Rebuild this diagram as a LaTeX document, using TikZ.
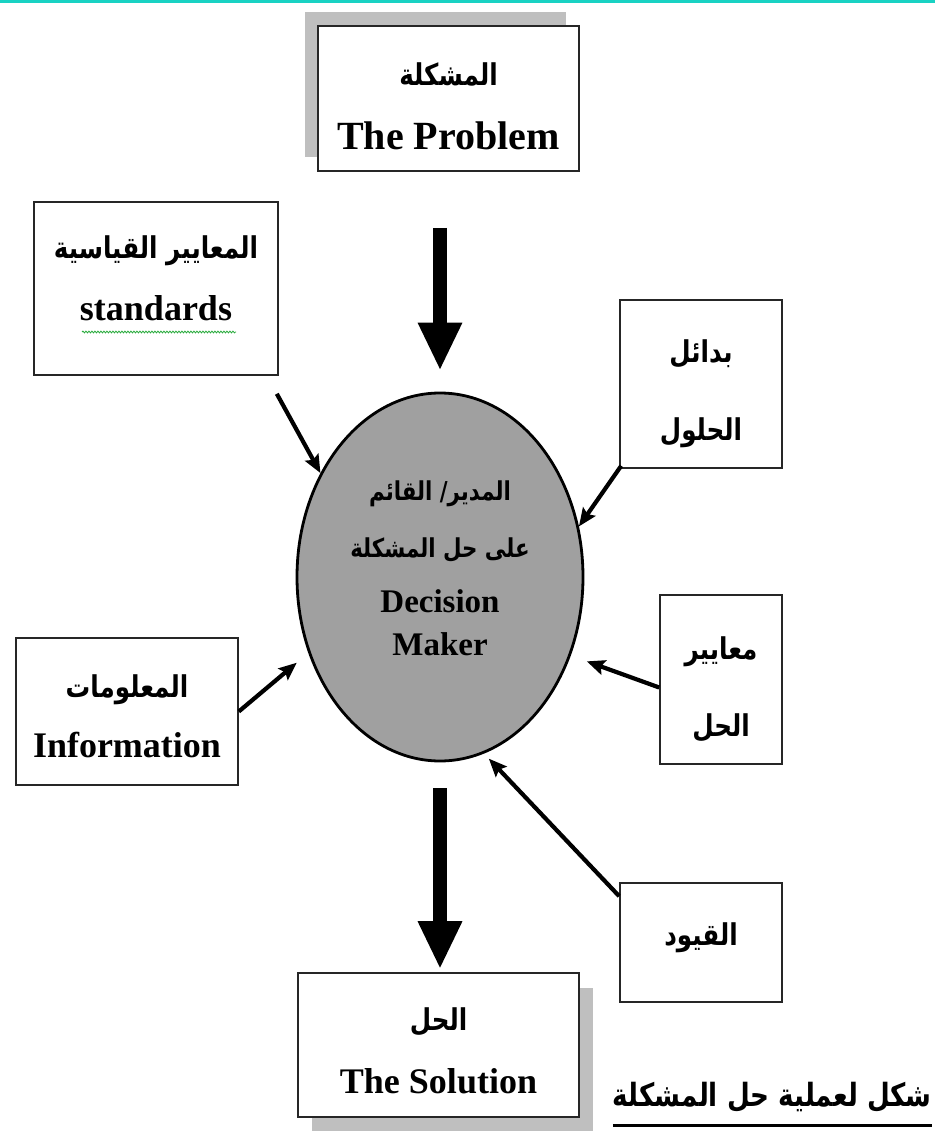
\documentclass[tikz,border=0pt]{standalone}
\usepackage{fontspec}
\setmainfont{Liberation Serif}
\newfontfamily\arabicfont[Script=Arabic, FakeStretch=0.82]{DejaVu Sans}
\TeXXeTstate=1
\usepackage{tikz}
\usetikzlibrary{positioning, shapes.geometric, arrows.meta, shadows, decorations.pathmorphing, calc}
\definecolor{topteal}{RGB}{24,210,195}
\definecolor{shadowgray}{RGB}{191,191,191}
\definecolor{makergray}{RGB}{160,160,160}
\definecolor{wavegreen}{RGB}{40,170,60}
\newcommand{\artxt}[2][30]{{\arabicfont\bfseries\fontsize{#1}{44}\selectfont\beginR #2\endR}}

\begin{document}
\begin{tikzpicture}[x=1pt, y=-1pt]
	\tikzset{box/.style={draw=black!85, line width=1.6pt, fill=white, rectangle, align=center, inner sep=0pt, text depth=0pt, font=\fontsize{36}{44}\selectfont\bfseries}}
	\tikzset{thinarrow/.style={-{Stealth[length=18pt, width=15pt, inset=3pt]}, line width=4.2pt}}
	\tikzset{bigarrow/.style={-{Triangle[length=48pt, width=41pt]}, line width=14pt}}
	% \tikzset{shadowed/.style={drop shadow}}

	\useasboundingbox (0,0) rectangle (935,1131);
	\fill[topteal] (0,0) rectangle (935,3.5);

	% Decision maker
	\node (dm) [ellipse, draw, line width=2.8pt, fill=makergray, minimum width=286pt, minimum height=368pt, inner sep=0pt, align=center, text height=156pt, text depth=0pt, font=\fontsize{33}{40}\selectfont\bfseries] at (440,577) {\artxt[26]{المدير/ القائم}\\[17pt]\artxt[26]{على حل المشكلة}\\[15pt]Decision\\[3pt]Maker};

	% Problem
	\node (prob) [box, minimum width=261pt, minimum height=145pt, text height=103pt, drop shadow={shadow xshift=-13pt, shadow yshift=14pt, fill=shadowgray, opacity=1}, font=\fontsize{40}{44}\selectfont\bfseries] at (448.5,98.5) {\artxt{المشكلة}\\[20pt]The Problem};
	\draw [bigarrow, shorten <=56pt, shorten >=21pt] (prob.south -| dm.north) -- (dm.north);

	% Standards
	\node (std) [box, minimum width=244pt, minimum height=173pt, text height=63pt] at (156,288.5) {\artxt{المعايير القياسية}\\[18pt]standards};
	\draw [wavegreen, line width=0.8pt, decorate, decoration={snake, amplitude=0.9pt, segment length=3pt}] (82,332) -- (236,332);
	\draw [thinarrow] ([xshift=-2pt, yshift=-18pt]std.south east) -- (dm.139);

	% Alternatives
	\node (alt) [box, minimum width=162pt, minimum height=168pt, text height=112pt] at (701,384) {\artxt{بدائل}\\[34pt]\artxt{الحلول}};
	\draw [thinarrow] ([xshift=2pt, yshift=3pt]alt.south west) -- (dm.20);

	% Criteria
	\node (crit) [box, minimum width=122pt, minimum height=169pt, text height=113pt] at (721,679.5) {\artxt{معايير}\\[33pt]\artxt{الحل}};
	\draw [thinarrow, shorten >=17pt] ([yshift=-8pt]crit.west) -- (dm.-31);

	% Information
	\node (info) [box, minimum width=222pt, minimum height=147pt, text height=91pt] at (127,711.5) {\artxt{المعلومات}\\[16pt]Information};
	\draw [thinarrow, shorten >=15pt] (info.east) -- (dm.210);

	% Constraints
	\node (cons) [box, minimum width=162pt, minimum height=119pt, text height=5pt, text depth=0pt] at (701,942.5) {\artxt{القيود}};
	\draw [thinarrow, shorten >=7pt] ([yshift=-14pt]cons.north west) -- (dm.-76);

	% Solution
	\node (sol) [box, minimum width=281pt, minimum height=144pt, text height=96pt, drop shadow={shadow xshift=14pt, shadow yshift=-15pt, fill=shadowgray, opacity=1}] at (438.5,1045) {\artxt{الحل}\\[19pt]The Solution};
	\draw [bigarrow, shorten <=26pt, shorten >=3pt] (dm.south) -- (dm.south |- sol.north);

	% Caption
	\node (cap) [anchor=base east, inner sep=0pt] at (932,1106) {\artxt[32]{شكل لعملية حل المشكلة}};
	\draw [line width=3pt] ([yshift=-19pt]cap.base west) -- ([yshift=-19pt]cap.base east);

\end{tikzpicture}
\end{document}
